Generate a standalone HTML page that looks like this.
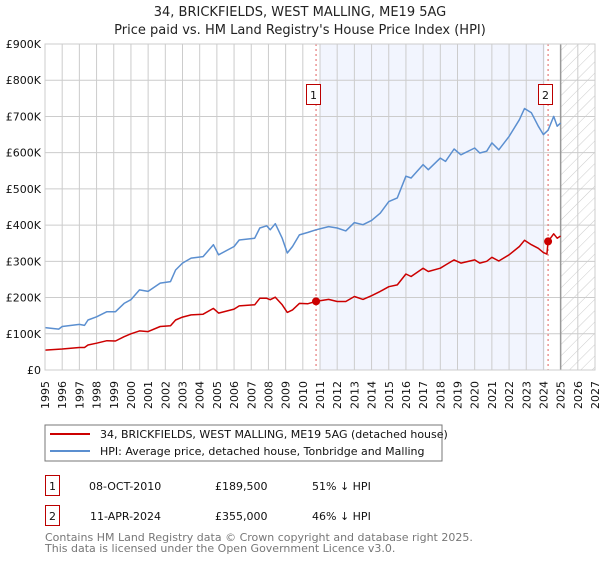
<!DOCTYPE html>
<html><head><meta charset="utf-8"><style>
body{margin:0;background:#fff;font-family:"Liberation Sans","DejaVu Sans",sans-serif}
svg text{font-family:"DejaVu Sans","Liberation Sans",sans-serif}
</style></head><body>
<svg id="chart" width="600" height="560" viewBox="0 0 600 560" xmlns="http://www.w3.org/2000/svg">
<defs><pattern id="hatch" width="8" height="8" patternUnits="userSpaceOnUse" patternTransform="rotate(45)"><line x1="0" y1="0" x2="0" y2="8" stroke="#ccc" stroke-width="1"/></pattern></defs>
<text x="300" y="16" text-anchor="middle" font-size="13" fill="#222">34, BRICKFIELDS, WEST MALLING, ME19 5AG</text>
<text x="300" y="34" text-anchor="middle" font-size="13" fill="#222">Price paid vs. HM Land Registry's House Price Index (HPI)</text>
<g id="grid"></g><g id="marks"></g><g id="axes"></g>
<rect x="45" y="425" width="397" height="36" fill="#fff" stroke="#777"/>
<line x1="50" y1="434" x2="90" y2="434" stroke="#cc0000" stroke-width="2"/>
<text x="100" y="438" font-size="11" fill="#111">34, BRICKFIELDS, WEST MALLING, ME19 5AG (detached house)</text>
<line x1="50" y1="451" x2="90" y2="451" stroke="#5b8fd0" stroke-width="2"/>
<text x="100" y="455" font-size="11" fill="#111">HPI: Average price, detached house, Tonbridge and Malling</text>
<g font-size="11" fill="#111">
<rect x="45.5" y="475.5" width="14" height="20" fill="none" stroke="#b00"/>
<text x="52.5" y="490" text-anchor="middle">1</text>
<text x="89" y="490">08-OCT-2010</text>
<text x="215" y="490">£189,500</text>
<text x="312" y="490">51% ↓ HPI</text>
<rect x="45.5" y="505.5" width="14" height="20" fill="none" stroke="#b00"/>
<text x="52.5" y="520" text-anchor="middle">2</text>
<text x="90" y="520">11-APR-2024</text>
<text x="215" y="520">£355,000</text>
<text x="312" y="520">46% ↓ HPI</text>
</g>
<text x="45" y="541" font-size="11" fill="#777">Contains HM Land Registry data © Crown copyright and database right 2025.</text>
<text x="45" y="552" font-size="11" fill="#777">This data is licensed under the Open Government Licence v3.0.</text>
</svg>
<script>
const hpiYears=[1995,1995.8,1996,1997,1997.3,1997.5,1998,1998.6,1999.1,1999.6,2000,2000.5,2001,2001.7,2002.3,2002.6,2003,2003.5,2004.2,2004.8,2005.1,2006,2006.3,2007.2,2007.5,2007.9,2008.1,2008.4,2008.8,2009.1,2009.4,2009.8,2010.3,2010.77,2011.5,2012,2012.5,2013,2013.5,2014,2014.5,2015,2015.5,2016,2016.3,2017,2017.3,2018,2018.3,2018.8,2019.2,2020,2020.3,2020.7,2021,2021.4,2022,2022.6,2022.9,2023.3,2023.7,2024,2024.27,2024.6,2024.8,2025];
const hpiValues=[117,113,120,126,123,138,147,161,161,184,194,221,217,240,244,276,295,309,313,346,318,341,359,364,392,398,387,404,364,323,341,373,380,387,396,392,384,407,401,413,433,465,475,535,530,567,553,585,576,610,594,613,599,604,627,608,645,691,722,710,673,650,662,700,673,682];
const priceYears=[1995,1996,1997,1997.3,1997.5,1998,1998.6,1999.1,1999.6,2000,2000.5,2001,2001.7,2002.3,2002.6,2003,2003.5,2004.2,2004.8,2005.1,2006,2006.3,2007.2,2007.5,2007.9,2008.1,2008.4,2008.8,2009.1,2009.4,2009.8,2010.3,2010.77,2011.5,2012,2012.5,2013,2013.5,2014,2014.5,2015,2015.5,2016,2016.3,2017,2017.3,2018,2018.3,2018.8,2019.2,2020,2020.3,2020.7,2021,2021.4,2022,2022.6,2022.9,2023.3,2023.7,2024,2024.2,2024.27,2024.6,2024.8,2025];
const priceValues=[55,58,62,62,69,74,81,80,92,100,108,106,120,122,138,146,152,154,170,157,168,177,180,198,198,194,201,180,159,166,184,183,189.5,195,189,189,203,195,205,217,230,235,265,258,281,272,281,290,304,295,304,295,300,311,301,318,341,358,346,336,324,320,355,376,364,370];
const saleYears=[2010.77,2024.27];
const saleValues=[189.5,355];
const saleLabels=["1","2"];
const yTicks=[0,100,200,300,400,500,600,700,800,900];
const yTickLabels=["£0","£100K","£200K","£300K","£400K","£500K","£600K","£700K","£800K","£900K"];
const xStart=1995,xEnd=2027;
const NS="http://www.w3.org/2000/svg";
const L=45,R=595,T=44,B=370;
const xs=y=>L+(y-xStart)/(xEnd-xStart)*(R-L);
const ys=v=>B-v/900*(B-T);
function mk(p,t,a){const e=document.createElementNS(NS,t);for(const k in a)e.setAttribute(k,a[k]);p.appendChild(e);return e;}
const grid=document.getElementById('grid'),marks=document.getElementById('marks'),axes=document.getElementById('axes');
let sh=mk(grid,'rect',{x:xs(saleYears[0])+4,y:T,width:xs(saleYears[1])-xs(saleYears[0])-7,height:B-T,fill:'#f2f5fe'});


let ht=mk(grid,'rect',{x:xs(2025),y:T,width:R-xs(2025),height:B-T,fill:'url(#hatch)'});


for(let yr=xStart;yr<=xEnd;yr++){
 const gl=mk(grid,'line',{x1:xs(yr),x2:xs(yr),y1:T,y2:B,stroke:'#ccc','stroke-width':1});
 
 
 const x=xs(yr),t=mk(axes,'text',{x:0,y:0,transform:`translate(${x+4},381) rotate(-90)`,'text-anchor':'end','font-size':11,fill:'#111'});
 t.textContent=yr;
 
 
}
yTicks.forEach((v,i)=>{
 const gl=mk(grid,'line',{x1:L,x2:R,y1:ys(v),y2:ys(v),stroke:'#ccc','stroke-width':1});
 
 
 const t=mk(axes,'text',{x:41,y:ys(v)+4,'text-anchor':'end','font-size':11,fill:'#111'});
 t.textContent=yTickLabels[i];
 
 
});
let nl=mk(grid,'line',{x1:xs(2025),x2:xs(2025),y1:T,y2:B,stroke:'#999','stroke-width':1.5});


saleYears.forEach((yr,i)=>{
 const d=mk(grid,'line',{x1:xs(yr),x2:xs(yr),y1:T,y2:B,stroke:'#e06060','stroke-width':1,'stroke-dasharray':'2,3'});
 
 
});
function path(xa,va,col,name){
 const p=mk(marks,'path',{d:xa.map((x,i)=>(i?'L':'M')+xs(x).toFixed(1)+','+ys(va[i]).toFixed(1)).join(''),fill:'none',stroke:col,'stroke-width':1.5,'stroke-linejoin':'round'});
 
 
}
path(hpiYears,hpiValues,'#5b8fd0','hpi-line');
path(priceYears,priceValues,'#cc0000','price-line');
saleYears.forEach((yr,i)=>{
 const c=mk(marks,'circle',{cx:xs(yr),cy:ys(saleValues[i]),r:4,fill:'#cc0000'});
 
 
 const cx=xs(yr)-3;
 const r=mk(marks,'rect',{x:Math.round(cx-7)+0.5,y:84.5,width:14,height:20,fill:'#fff',stroke:'#b00'});
 
 
 const t=mk(marks,'text',{x:Math.round(cx-7)+7.5,y:99,'text-anchor':'middle','font-size':11,fill:'#111'});
 t.textContent=saleLabels[i];
 
 
});
let fr=mk(axes,'rect',{x:L,y:T,width:R-L,height:B-T,fill:'none',stroke:'#ccc'});


</script>
</body></html>
